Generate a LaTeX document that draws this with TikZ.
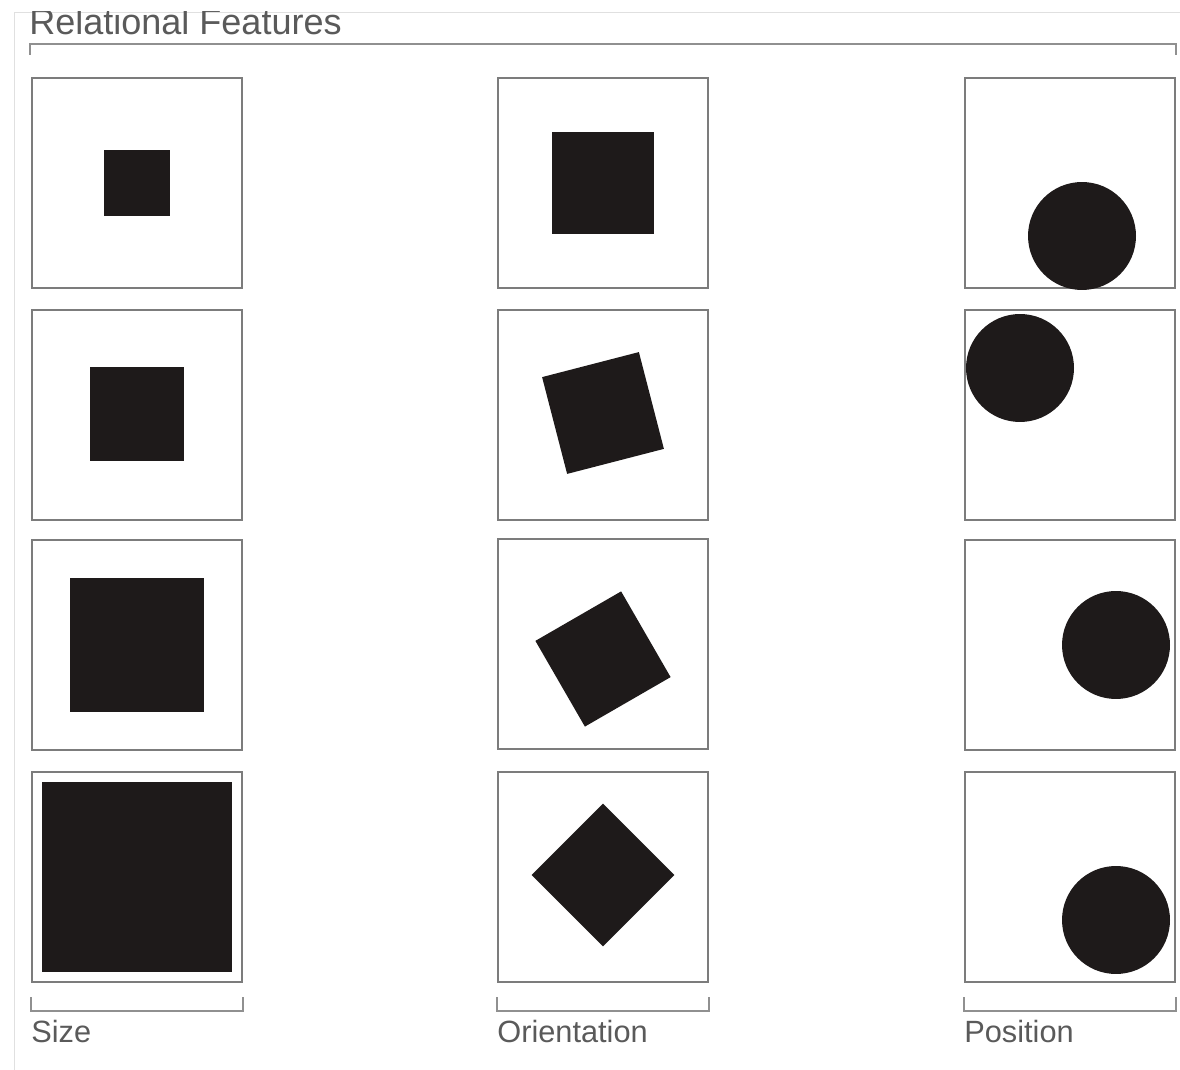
\documentclass[tikz,border=0pt]{standalone}
\usepackage{fontspec}
\setmainfont{Liberation Sans}
\usetikzlibrary{positioning}
\definecolor{ink}{HTML}{1E1A1A}
\definecolor{rule}{HTML}{7C7C7C}
\definecolor{txt}{HTML}{5A5A5A}
\tikzset{
  panel/.style={draw=rule, line width=1.3pt, minimum size=4.2cm, inner sep=0pt},
  blob/.style={fill=ink, inner sep=0pt},
  disc/.style={blob, circle, minimum size=2.16cm},
  bracket/.style={draw=rule!85, line width=1pt},
  lbl/.style={text=txt, font=\fontsize{17.5}{20}\selectfont, inner sep=0pt, anchor=base west},
}
\begin{document}
\begin{tikzpicture}[x=0.02cm, y=-0.02cm]
   \useasboundingbox (0,0) rectangle (1180,1070);
   \draw[black!12] (14,1070) -- (14,12) -- (1180,12);
   % panels
   \node[panel] (S1) at (137,183) {};
   \node[panel] (S2) at (137,415) {};
   \node[panel] (S3) at (137,645) {};
   \node[panel] (S4) at (137,877) {};
   \node[panel] (O1) at (603,183) {};
   \node[panel] (O2) at (603,415) {};
   \node[panel] (O3) at (603,644) {};
   \node[panel] (O4) at (603,877) {};
   \node[panel] (P1) at (1070,183) {};
   \node[panel] (P2) at (1070,415) {};
   \node[panel] (P3) at (1070,645) {};
   \node[panel] (P4) at (1070,877) {};
   % size
   \node[blob, minimum size=1.32cm] (s1) at (S1) {};
   \node[blob, minimum size=1.88cm] (s2) at ([shift={(0,-1)}]S2) {};
   \node[blob, minimum size=2.68cm] (s3) at (S3) {};
   \node[blob, minimum size=3.8cm] (s4) at (S4) {};
   % orientation
   \node[blob, minimum size=2.06cm] (o1) at (O1) {};
   \node[blob, minimum size=2cm, rotate=14.5] (o2) at ([shift={(0,-2)}]O2) {};
   \node[blob, minimum size=1.98cm, rotate=30] (o3) at ([shift={(0,15)}]O3) {};
   \node[blob, minimum size=2.02cm, rotate=45] (o4) at ([shift={(0,-2)}]O4) {};
   % position
   \node[disc] (p1) at (1082,236) {};
   \node[disc] (p2) at (1020,368) {};
   \node[disc] (p3) at (1116,645) {};
   \node[disc] (p4) at (1116,920) {};
   % brackets
   \draw[bracket] ([shift={(-1,-22)}]S1.north west) -- ++(0,-11) -| ([shift={(0,-22)}]P1.north east);
   \draw[bracket] ([shift={(0,14)}]S4.south west) -- ++(0,14) -| ([shift={(0,14)}]S4.south east);
   \draw[bracket] ([shift={(0,14)}]O4.south west) -- ++(0,14) -| ([shift={(0,14)}]O4.south east);
   \draw[bracket] ([shift={(0,14)}]P4.south west) -- ++(0,14) -| ([shift={(0,14)}]P4.south east);
   % labels
   \begin{scope}
      \clip (0,12) rectangle (1180,1070);
      \node[lbl, font=\fontsize{20.5}{24}\selectfont] (title) at (29,35) {Relational Features};
   \end{scope}
   \node[lbl] (lsize) at (31,1042) {Size};
   \node[lbl] (lorient) at (497,1042) {Orientation};
   \node[lbl] (lpos) at (964,1042) {Position};
\end{tikzpicture}
\end{document}
